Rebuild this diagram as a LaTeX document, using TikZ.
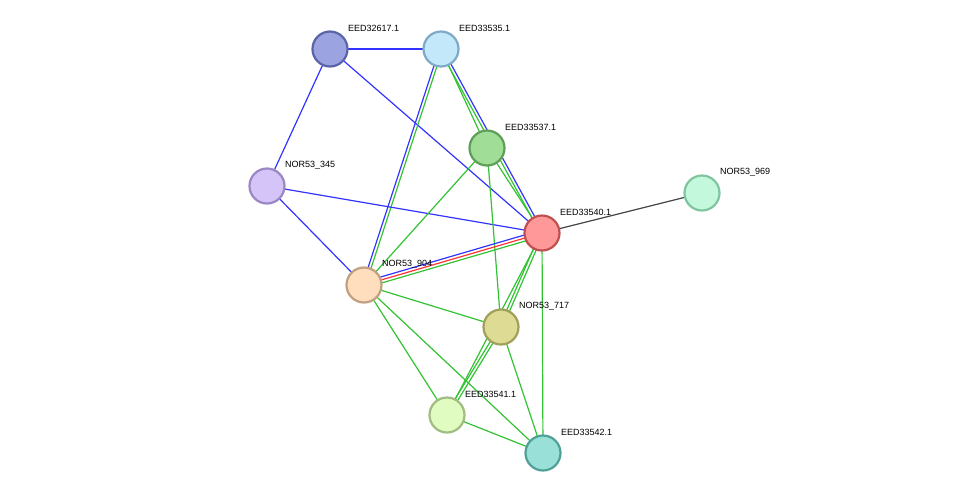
\documentclass[tikz,border=0pt]{standalone}
\usepackage{fontspec}
\setmainfont{Liberation Sans}
\usetikzlibrary{calc}
\definecolor{eb}{HTML}{3333FF}
\definecolor{eg}{HTML}{33C233}
\definecolor{er}{HTML}{FF3333}
\definecolor{ek}{HTML}{444444}
\newcommand\pe[4]{\draw[#1] ($(#2.center)!#4!90:(#3.center)$) -- ($(#3.center)!#4!-90:(#2.center)$);}
\begin{document}
\begin{tikzpicture}[x=1pt,y=-1pt,
  nd/.style={circle,minimum size=35pt,inner sep=0pt,line width=2.2pt},
  lb/.style={anchor=south west,inner sep=0pt,font=\fontsize{9}{10}\selectfont},
  ed/.style={line width=1.2pt}]
\useasboundingbox (0,0) rectangle (975,499);
\coordinate (a) at (330,49);
\coordinate (b) at (441,49);
\coordinate (c) at (487,148);
\coordinate (d) at (267,186);
\coordinate (e) at (542,233);
\coordinate (f) at (702,193);
\coordinate (g) at (364,285);
\coordinate (h) at (501,327);
\coordinate (i) at (447,415);
\coordinate (j) at (543,453);
% edges
\pe{ed,eb}{a}{b}{0pt}
\pe{ed,eb}{a}{d}{0pt}
\pe{ed,eb}{a}{e}{0pt}
\pe{ed,eb}{b}{g}{-1.5pt}
\pe{ed,eg}{b}{g}{1.5pt}
\pe{ed,eg}{b}{c}{0pt}
\pe{ed,eg}{b}{e}{-1.5pt}
\pe{ed,eb}{b}{e}{1.5pt}
\pe{ed,eg}{c}{e}{0pt}
\pe{ed,eb}{d}{e}{0pt}
\pe{ed,eb}{d}{g}{0pt}
\pe{ed,eg}{c}{g}{0pt}
\pe{ed,eg}{c}{h}{0pt}
\pe{ed,ek}{e}{f}{0pt}
\pe{ed,eb}{e}{g}{-3pt}
\pe{ed,er}{e}{g}{0pt}
\pe{ed,eg}{e}{g}{3pt}
\pe{ed,eg}{e}{h}{-1.5pt}
\pe{ed,eg}{e}{h}{1.5pt}
\pe{ed,eg}{e}{i}{0pt}
\pe{ed,eg}{e}{j}{0pt}
\pe{ed,eg}{g}{h}{0pt}
\pe{ed,eg}{g}{i}{0pt}
\pe{ed,eg}{g}{j}{0pt}
\pe{ed,eg}{h}{i}{-1.5pt}
\pe{ed,eg}{h}{i}{1.5pt}
\pe{ed,eg}{h}{j}{0pt}
\pe{ed,eg}{i}{j}{0pt}
% nodes
\node[nd,fill={rgb,255:red,155;green,164;blue,224},draw={rgb,255:red,90;green,100;blue,168}] (n1) at (a) {};
\node[nd,fill={rgb,255:red,194;green,232;blue,250},draw={rgb,255:red,127;green,169;blue,196}] (n2) at (b) {};
\node[nd,fill={rgb,255:red,160;green,222;blue,152},draw={rgb,255:red,94;green,158;blue,88}] (n3) at (c) {};
\node[nd,fill={rgb,255:red,212;green,196;blue,248},draw={rgb,255:red,154;green,135;blue,196}] (n4) at (d) {};
\node[nd,fill={rgb,255:red,255;green,152;blue,152},draw={rgb,255:red,192;green,80;blue,80}] (n5) at (e) {};
\node[nd,fill={rgb,255:red,196;green,248;blue,220},draw={rgb,255:red,128;green,196;blue,160}] (n6) at (f) {};
\node[nd,fill={rgb,255:red,255;green,222;blue,189},draw={rgb,255:red,192;green,160;blue,128}] (n7) at (g) {};
\node[nd,fill={rgb,255:red,222;green,220;blue,148},draw={rgb,255:red,160;green,160;blue,90}] (n8) at (h) {};
\node[nd,fill={rgb,255:red,224;green,252;blue,192},draw={rgb,255:red,160;green,188;blue,128}] (n9) at (i) {};
\node[nd,fill={rgb,255:red,152;green,224;blue,216},draw={rgb,255:red,80;green,160;blue,152}] (n10) at (j) {};
% labels
\node[lb] (l1) at (348,32) {EED32617.1};
\node[lb] (l2) at (459,32) {EED33535.1};
\node[lb] (l3) at (505,131) {EED33537.1};
\node[lb] (l4) at (285,169) {NOR53\_345};
\node[lb] (l5) at (560,216) {EED33540.1};
\node[lb] (l6) at (720,176) {NOR53\_969};
\node[lb] (l7) at (382,268) {NOR53\_904};
\node[lb] (l8) at (519,310) {NOR53\_717};
\node[lb] (l9) at (465,398) {EED33541.1};
\node[lb] (l10) at (561,436) {EED33542.1};
\end{tikzpicture}
\end{document}
